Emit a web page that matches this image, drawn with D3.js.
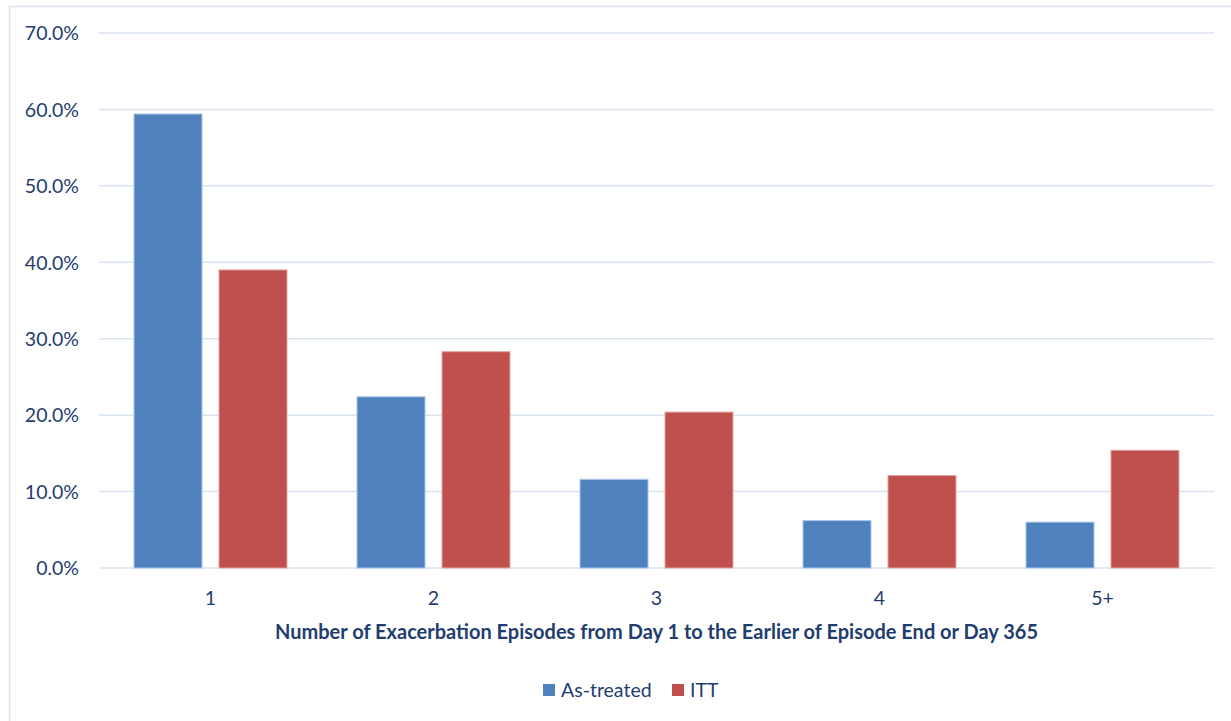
<!DOCTYPE html>
<html><head><meta charset="utf-8">
<script src="https://cdnjs.cloudflare.com/ajax/libs/d3/7.8.5/d3.min.js"></script>
<style>
html,body{margin:0;padding:0;background:#fff;}
svg{display:block;}
text{font-family:Lato,"Open Sans",sans-serif;}
</style></head>
<body>
<script>
const categories = ["1","2","3","4","5+"];
const seriesNames = ["As-treated","ITT"];
const asTreated = [59.4, 22.4, 11.6, 6.2, 6.0];
const itt = [39.0, 28.3, 20.4, 12.1, 15.4];
const yTicks = [0,10,20,30,40,50,60,70];
const colors = ["#4F81BD","#C0504D"];
const xTitle = "Number of Exacerbation Episodes from Day 1 to the Earlier of Episode End or Day 365";

const W=1231,H=721;
const txtColor="#1F3D6E";
const svg=d3.select("body").append("svg").attr("width",W).attr("height",H);
// outer chart frame
svg.append("rect").attr("x",9.5).attr("y",6.5).attr("width",W).attr("height",H)
  .attr("fill","none").attr("stroke","#DAE3F0").attr("stroke-width",1.5);

const pLeft=99,pRight=1214,pTop=33,pBottom=568;
const y=d3.scaleLinear().domain([0,70]).range([pBottom,pTop]);
const x0=d3.scaleBand().domain(categories).range([pLeft,pRight]).paddingInner(0.314).paddingOuter(0.157);
const x1=d3.scaleBand().domain(seriesNames).range([0,x0.bandwidth()]).paddingInner(0.2);

// grid
svg.append("g").selectAll("line").data(yTicks).join("line")
  .attr("x1",pLeft).attr("x2",pRight).attr("y1",d=>y(d)).attr("y2",d=>y(d))
  .attr("stroke","#DAE3F0").attr("stroke-width",1.5);

// y labels
const yAxis=d3.axisLeft(y).tickValues(yTicks).tickSize(0).tickPadding(0).tickFormat(d=>d.toFixed(1)+"%");
const ga=svg.append("g").attr("transform",`translate(79,0)`).call(yAxis);
ga.select(".domain").remove();
ga.selectAll("text").attr("fill",txtColor).style("font-size","19.5px").style("font-family","Lato,'Open Sans',sans-serif").attr("dy","0.35em");

// x labels
const xAxis=d3.axisBottom(x0).tickSize(0).tickPadding(0);
const gx=svg.append("g").attr("transform",`translate(0,${pBottom})`).call(xAxis);
gx.select(".domain").remove();
gx.selectAll("text").attr("fill",txtColor).style("font-size","19.5px").style("font-family","Lato,'Open Sans',sans-serif").attr("y",30).attr("dy","0.35em");

// bars
const data=categories.map((c,i)=>({c,vals:[asTreated[i],itt[i]]}));
const g=svg.append("g").selectAll("g").data(data).join("g").attr("transform",d=>`translate(${x0(d.c)},0)`);
g.selectAll("rect").data(d=>d.vals.map((v,j)=>({s:seriesNames[j],v,j}))).join("rect")
  .attr("x",d=>x1(d.s)).attr("width",x1.bandwidth())
  .attr("y",d=>y(d.v)).attr("height",d=>pBottom-y(d.v))
  .attr("fill",d=>colors[d.j])
  .attr("stroke",d=>d.j===0?"#A9C4E8":"#E2A3A1").attr("stroke-width",1);

// x title
svg.append("text").attr("x",656.5).attr("y",632).attr("dy","0.35em").attr("text-anchor","middle")
  .attr("fill",txtColor).style("font-size","20px").style("font-weight","bold").text(xTitle);

// legend
const leg=svg.append("g");
const legX=[543,672];
seriesNames.forEach((s,i)=>{
  leg.append("rect").attr("x",legX[i]).attr("y",684).attr("width",12).attr("height",12).attr("fill",colors[i]);
  leg.append("text").attr("x",legX[i]+18).attr("y",690).attr("dy","0.35em").attr("fill",txtColor)
    .style("font-size","19.5px").text(s);
});
</script>
</body></html>
